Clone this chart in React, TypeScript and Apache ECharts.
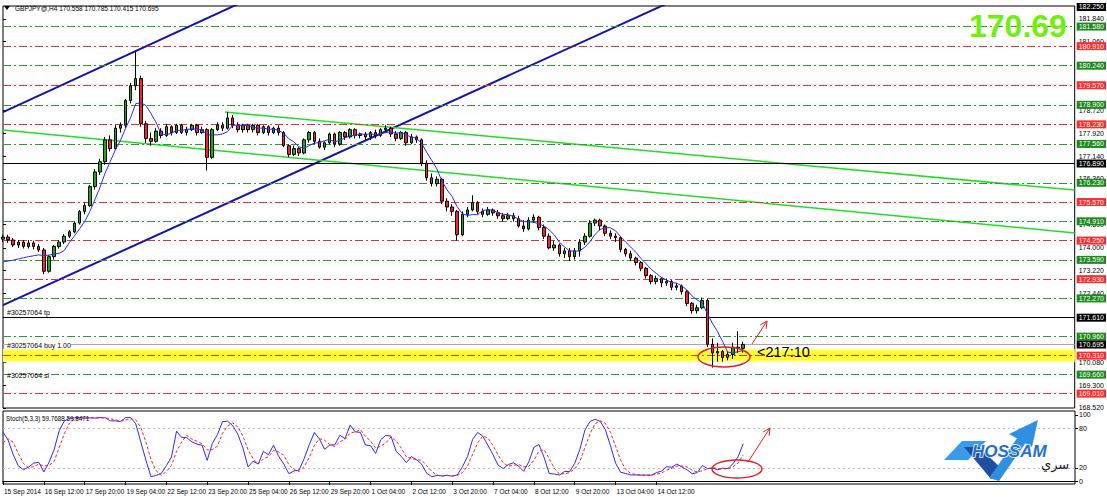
import React, { useEffect, useRef } from "react";
import * as echarts from "echarts";

// ---------- data ----------
const tickLabels = ["15 Sep 2014","16 Sep 12:00","17 Sep 20:00","19 Sep 04:00","22 Sep 12:00","23 Sep 20:00","25 Sep 04:00","26 Sep 12:00","29 Sep 20:00","1 Oct 04:00","2 Oct 12:00","3 Oct 20:00","7 Oct 04:00","8 Oct 12:00","9 Oct 20:00","13 Oct 04:00","14 Oct 12:00"];

const opens = [174.30,174.37,174.27,174.10,174.20,174.05,174.17,174.05,173.93,173.20,
173.70,174.05,174.20,174.40,174.55,174.85,175.25,175.45,176.10,176.60,
176.95,177.70,177.40,178.10,178.20,179.05,179.55,179.80,178.25,177.75,
177.65,178.00,177.85,178.15,177.95,178.20,177.95,178.05,178.20,177.95,
178.05,177.10,178.05,178.20,178.10,178.45,178.20,178.05,178.20,178.05,
178.20,177.95,178.15,177.95,178.10,177.95,177.50,177.20,177.40,177.25,
177.70,177.95,177.65,177.45,177.60,177.90,177.55,177.95,177.80,178.05,
177.85,177.90,177.80,177.95,177.85,178.05,178.10,177.90,177.75,177.95,
177.60,177.80,177.70,176.90,176.40,176.20,176.35,175.60,175.40,175.25,
174.45,175.15,175.30,175.55,175.25,175.15,175.30,175.20,175.10,175.00,
175.10,175.00,174.75,174.65,174.95,175.05,174.70,174.40,174.00,174.10,
173.80,173.90,173.70,173.90,174.20,174.40,174.85,174.95,174.75,174.50,
174.40,174.35,173.95,173.80,173.65,173.50,173.30,173.05,172.85,172.95,
172.80,172.85,172.65,172.70,172.50,172.10,171.85,171.95,172.20,170.70,
170.40,170.45,170.25,170.35,170.60,170.558];

const closes = [174.37,174.27,174.10,174.20,174.05,174.17,174.05,173.93,173.20,173.70,
174.05,174.20,174.40,174.55,174.85,175.25,175.45,176.10,176.60,176.95,
177.70,177.40,178.10,178.20,179.05,179.55,179.80,178.25,177.75,177.65,
178.00,177.85,178.15,177.95,178.20,177.95,178.05,178.20,177.95,178.05,
177.10,178.05,178.20,178.10,178.45,178.20,178.05,178.20,178.05,178.20,
177.95,178.15,177.95,178.10,177.95,177.50,177.20,177.40,177.25,177.70,
177.95,177.65,177.45,177.60,177.90,177.55,177.95,177.80,178.05,177.85,
177.90,177.80,177.95,177.85,178.05,178.10,177.90,177.75,177.95,177.60,
177.80,177.70,176.90,176.40,176.20,176.35,175.60,175.40,175.25,174.45,
175.15,175.30,175.55,175.25,175.15,175.30,175.20,175.10,175.00,175.10,
175.00,174.75,174.65,174.95,175.05,174.70,174.40,174.00,174.10,173.80,
173.90,173.70,173.90,174.20,174.40,174.85,174.95,174.75,174.50,174.40,
174.35,173.95,173.80,173.65,173.50,173.30,173.05,172.85,172.95,172.80,
172.85,172.65,172.70,172.50,172.10,171.85,171.95,172.20,170.70,170.40,
170.45,170.25,170.35,170.60,170.558,170.695];

const lows = [174.20,174.17,174.03,174.00,173.98,173.98,173.95,173.86,173.10,173.15,
173.60,173.98,174.13,174.34,174.50,174.80,175.15,175.40,176.00,176.50,
176.85,177.30,177.35,177.95,178.10,178.95,179.40,178.15,177.60,177.50,
177.60,177.75,177.80,177.85,177.90,177.90,177.85,178.00,177.85,177.90,
176.65,177.05,178.00,178.00,178.05,178.10,177.95,177.95,177.95,177.95,
177.85,177.90,177.85,177.90,177.85,177.45,177.10,177.15,177.15,177.20,
177.60,177.55,177.40,177.35,177.55,177.45,177.50,177.70,177.75,177.75,
177.75,177.70,177.70,177.75,177.80,177.95,177.80,177.65,177.70,177.50,
177.55,177.60,176.80,176.30,176.10,176.10,175.50,175.25,175.10,174.25,
174.40,175.05,175.25,175.15,175.05,175.10,175.10,175.00,174.90,174.95,
174.90,174.70,174.55,174.60,174.85,174.60,174.30,173.95,173.90,173.70,
173.65,173.55,173.60,173.70,174.10,174.35,174.75,174.60,174.40,174.30,
174.20,173.85,173.70,173.55,173.40,173.20,172.95,172.75,172.75,172.65,
172.70,172.55,172.55,172.40,172.00,171.75,171.75,171.90,170.60,169.90,
170.10,170.10,170.15,170.20,170.40,170.415];

const highs = [174.45,174.45,174.34,174.27,174.27,174.27,174.25,174.13,174.00,173.76,
174.10,174.27,174.47,174.61,174.90,175.30,175.55,176.15,176.70,177.05,
177.80,177.85,178.20,178.30,179.10,179.65,180.71,179.90,178.35,177.95,
178.10,178.10,178.25,178.20,178.25,178.25,178.15,178.25,178.25,178.15,
178.10,178.10,178.30,178.30,178.65,178.55,178.30,178.25,178.25,178.25,
178.25,178.20,178.20,178.15,178.20,178.00,177.55,177.50,177.45,177.75,
178.00,178.00,177.75,177.65,177.95,177.95,178.00,178.00,178.10,178.10,
177.95,177.97,178.00,178.05,178.10,178.20,178.15,178.00,178.00,178.00,
177.90,177.85,177.75,177.00,176.55,176.45,176.40,175.70,175.50,175.30,
175.25,175.40,175.80,175.60,175.35,175.40,175.35,175.30,175.20,175.20,
175.20,175.10,174.95,175.05,175.15,175.10,174.80,174.50,174.25,174.15,
174.00,174.00,174.00,174.30,174.50,174.95,175.00,175.00,174.80,174.60,
174.50,174.40,174.00,173.90,173.70,173.55,173.35,173.10,173.05,173.00,
172.95,172.90,172.80,172.75,172.55,172.15,172.05,172.30,172.25,170.90,
170.75,170.50,170.45,170.75,171.15,170.785];

// indicator values of the first bars (history before the window)
const maLead = [173.52,173.55,173.58,173.62,173.66,173.70,173.73,173.76,173.74,173.75,173.79];
const stochKLead = [74, 62, 40, 23, 17, 21];
const stochDLead = [58, 64];

const plainPriceTicks = [181.84,181.06,178.72,177.92,177.14,176.36,174.8,174.0,173.22,172.44,170.08,169.3,168.52];
const greenLevels = [181.58,180.24,178.9,177.56,176.23,174.91,173.59,172.27,170.96,169.66];
const redLevels = [180.91,179.57,178.23,175.57,174.25,172.93,170.31,169.01];
const blackLevels = [176.89,171.61];
const topPrice = 182.25;
const bidPrice = 170.695;
const stochTicks = [0,20,80,100];
const stochLevels = [20,80];

// drawn objects (endpoints as [bar index, price])
const blueUpper = [[0,178.65],[50,182.67]];
const blueLower = [[0,172.04],[131,182.44]];
const greenUpper = [[43.5,178.65],[210,175.98]];
const greenLower = [[0,178.04],[210,174.51]];
const highlightBand = [170.08,170.55];

const N_SLOTS = 211;
const Y_MIN = 168.517;
const Y_MAX = 182.284;
const FONT = "'Liberation Sans', Arial, sans-serif";

function maLine(p: number) {
  return closes.map((_, i) => {
    if (i < maLead.length) return maLead[i];
    let s = 0;
    for (let j = i - p + 1; j <= i; j++) s += closes[j];
    return +(s / p).toFixed(4);
  });
}

function stochastic(k: number, slow: number, d: number) {
  const n = closes.length;
  const K: number[] = new Array(n).fill(0);
  const D: number[] = new Array(n).fill(0);
  for (let i = 0; i < n; i++) {
    if (i < stochKLead.length) { K[i] = stochKLead[i]; continue; }
    let num = 0, den = 0;
    for (let j = i - slow + 1; j <= i; j++) {
      const a = Math.max(0, j - k + 1);
      let ll = Infinity, hh = -Infinity;
      for (let m = a; m <= j; m++) { ll = Math.min(ll, lows[m]); hh = Math.max(hh, highs[m]); }
      num += closes[j] - ll; den += hh - ll;
    }
    K[i] = den > 0 ? (100 * num) / den : 100;
  }
  for (let i = 0; i < n; i++) {
    if (i < stochDLead.length) { D[i] = stochDLead[i]; continue; }
    let s = 0;
    for (let j = i - d + 1; j <= i; j++) s += K[j];
    D[i] = s / d;
  }
  return { K, D };
}

function levelLine(v: number, color: string, bg: string, type: any) {
  return {
    yAxis: v,
    lineStyle: { color, type, width: 1 },
    label: {
      show: true, position: "end", formatter: v.toFixed(3), distance: 2,
      backgroundColor: bg, color: "#fff", padding: [1, 2, 0, 2],
      fontSize: 7, fontFamily: FONT,
    },
  };
}

function arrowHead(tx: number, ty: number, fx: number, fy: number, len = 7, half = 3.5) {
  const dx = tx - fx, dy = ty - fy;
  const L = Math.hypot(dx, dy);
  const ux = dx / L, uy = dy / L;
  const bx = tx - len * ux, by = ty - len * uy;
  const px = -uy, py = ux;
  return [[bx + half * px, by + half * py], [tx, ty], [bx - half * px, by - half * py]];
}

function buildOption() {
  const categories = Array.from({ length: N_SLOTS }, (_, i) => String(i));
  const candleData = opens.map((o, i) => [o, closes[i], lows[i], highs[i]]);
  const ma = maLine(5);
  const st = stochastic(5, 3, 3);
  const labelInterval = (index: number) => index % 8 === 0 && index / 8 < tickLabels.length;
  const dashDot = [8, 3, 2, 3];

  const levels: any[] = [];
  greenLevels.forEach((v) => levels.push(levelLine(v, "#2e9a2e", "#1c8a1c", dashDot)));
  redLevels.forEach((v) => levels.push(levelLine(v, "#e83030", "#ff2a2a", dashDot)));
  blackLevels.forEach((v) => levels.push(levelLine(v, "#000", "#000", "solid")));
  levels.push(levelLine(topPrice, "rgba(0,0,0,0)", "#000", "solid"));
  levels.push(levelLine(bidPrice, "#a8a8a8", "#000", "solid"));

  const chLine = (data: number[][], color: string, width: number) => ({
    type: "line", xAxisIndex: 1, yAxisIndex: 0, data, symbol: "none", silent: true,
    lineStyle: { color, width }, clip: true, z: 4,
  });

  const txt = (x: number, y: number, text: string, size: number, extra: any = {}) => ({
    type: "text", x, y, silent: true, z: 50,
    style: { text, fill: "#000", font: `${size}px ${FONT}`, textVerticalAlign: "middle", ...extra },
  });

  const mainArrowFrom = [752, 344], mainArrowTo = [767, 321];
  const stArrowFrom = [748, 462], stArrowTo = [770, 428];

  return {
    animation: false,
    backgroundColor: "#fff",
    textStyle: { fontFamily: FONT },
    grid: [
      { left: 3, right: 32, top: 6, height: 402, show: true, borderColor: "#000", borderWidth: 1 },
      { left: 3, right: 32, top: 411, height: 73, show: true, borderColor: "#000", borderWidth: 1 },
    ],
    xAxis: [
      { type: "category", gridIndex: 0, data: categories, boundaryGap: false, axisLine: { show: false }, axisTick: { show: false }, axisLabel: { show: false }, splitLine: { show: false } },
      { type: "value", gridIndex: 0, min: 0, max: N_SLOTS - 1, show: false, position: "top" },
      {
        type: "category", gridIndex: 1, data: categories, boundaryGap: false,
        axisLine: { lineStyle: { color: "#000" } },
        axisTick: { show: true, interval: labelInterval, length: 4, lineStyle: { color: "#000" } },
        axisLabel: { interval: labelInterval, showMinLabel: true, hideOverlap: false, formatter: (_v: string, i: number) => tickLabels[i / 8] ?? "", align: "left", fontSize: 6.5, color: "#000", margin: 4, padding: [0, 0, 0, 1], fontFamily: FONT },
        splitLine: { show: false },
      },
    ],
    yAxis: [
      {
        type: "value", gridIndex: 0, min: Y_MIN, max: Y_MAX, position: "right",
        splitLine: { show: false }, axisLine: { show: false },
        axisTick: { show: true, customValues: plainPriceTicks, length: 3, lineStyle: { color: "#000" } },
        axisLabel: { customValues: plainPriceTicks, formatter: (v: number) => v.toFixed(3), fontSize: 7, color: "#000", margin: 4, fontFamily: FONT },
      },
      {
        type: "value", gridIndex: 1, min: -4.5, max: 106, position: "right",
        splitLine: { show: false }, axisLine: { show: false },
        axisTick: { show: true, customValues: stochTicks, length: 3, lineStyle: { color: "#000" } },
        axisLabel: { customValues: stochTicks, fontSize: 7, color: "#000", margin: 4, fontFamily: FONT },
      },
    ],
    series: [
      {
        type: "line", xAxisIndex: 0, yAxisIndex: 0, data: [], z: 1, silent: true,
        markArea: {
          silent: true,
          data: [
            [{ yAxis: highlightBand[0], itemStyle: { color: "#ffff99" } }, { yAxis: highlightBand[1] }],
            [{ yAxis: highlightBand[0] + 0.06, itemStyle: { color: "#ffff2e" } }, { yAxis: highlightBand[1] - 0.06 }],
          ],
        },
      },
      {
        type: "line", xAxisIndex: 0, yAxisIndex: 0, data: [], z: 2, silent: true,
        markLine: { silent: true, symbol: ["none", "none"], data: levels },
      },
      chLine(blueUpper, "#1414a8", 2),
      chLine(blueLower, "#1414a8", 2),
      chLine(greenUpper, "#22dd22", 1.5),
      chLine(greenLower, "#22dd22", 1.5),
      {
        type: "candlestick", xAxisIndex: 0, yAxisIndex: 0, data: candleData, barWidth: 3, z: 5, silent: true,
        itemStyle: { color: "#10b010", color0: "#ff2020", borderColor: "#000", borderColor0: "#000", borderWidth: 1 },
      },
      {
        type: "line", xAxisIndex: 0, yAxisIndex: 0, data: ma, symbol: "none", silent: true, z: 6,
        lineStyle: { color: "#2a2aff", width: 1 },
      },
      {
        type: "line", xAxisIndex: 2, yAxisIndex: 1, data: st.K, symbol: "none", silent: true, z: 5,
        lineStyle: { color: "#2a2aff", width: 1 },
        markLine: {
          silent: true, symbol: ["none", "none"], label: { show: false },
          data: stochLevels.map((v) => ({ yAxis: v })),
          lineStyle: { color: "#bbbbbb", type: [2, 3], width: 1 },
        },
      },
      {
        type: "line", xAxisIndex: 2, yAxisIndex: 1, data: st.D, symbol: "none", silent: true, z: 5,
        lineStyle: { color: "#ff2020", width: 1, type: [3, 2] },
      },
    ],
    graphic: [
      { type: "polygon", silent: true, z: 50, shape: { points: [[4, 6], [10, 6], [7, 10]] }, style: { fill: "#000" } },
      txt(15, 8, "GBPJPY@,H4 170.558 170.785 170.415 170.695", 6.5),
      txt(7, 312, "#30257064 tp", 7),
      txt(7, 345, "#30257064 buy 1.00", 7, { backgroundColor: "#fff" }),
      txt(7, 375, "#30257064 sl", 7),
      txt(6, 418, "Stoch(5,3,3) 59.7688 59.8471", 6.3),
      { type: "text", x: 757, y: 352, silent: true, z: 50, style: { text: "<217:10", fill: "#000", font: `14.5px ${FONT}`, textVerticalAlign: "middle" } },
      { type: "text", x: 969, y: 26, silent: true, z: 50, style: { text: "170.69", fill: "#72ee10", font: `bold 32px ${FONT}`, textVerticalAlign: "middle" } },
      { type: "ellipse", silent: true, z: 50, shape: { cx: 724, cy: 357, rx: 26, ry: 10 }, style: { fill: "none", stroke: "#e02020", lineWidth: 1.5 } },
      { type: "line", silent: true, z: 50, shape: { x1: mainArrowFrom[0], y1: mainArrowFrom[1], x2: mainArrowTo[0], y2: mainArrowTo[1] }, style: { stroke: "#e02020", lineWidth: 1 } },
      { type: "polyline", silent: true, z: 50, shape: { points: arrowHead(mainArrowTo[0], mainArrowTo[1], mainArrowFrom[0], mainArrowFrom[1]) }, style: { stroke: "#e02020", lineWidth: 1, fill: "none" } },
      { type: "ellipse", silent: true, z: 50, shape: { cx: 737, cy: 469, rx: 25, ry: 9 }, style: { fill: "none", stroke: "#e02020", lineWidth: 1.5 } },
      { type: "line", silent: true, z: 50, shape: { x1: stArrowFrom[0], y1: stArrowFrom[1], x2: stArrowTo[0], y2: stArrowTo[1] }, style: { stroke: "#e02020", lineWidth: 1 } },
      { type: "polyline", silent: true, z: 50, shape: { points: arrowHead(stArrowTo[0], stArrowTo[1], stArrowFrom[0], stArrowFrom[1]) }, style: { stroke: "#e02020", lineWidth: 1, fill: "none" } },
      // logo
      { type: "polygon", silent: true, z: 40, shape: { points: [[944, 460], [962, 441], [986, 441], [968, 460]] }, style: { fill: "#3a9be8" } },
      { type: "polygon", silent: true, z: 40, shape: { points: [[964, 447], [979, 447], [1004, 471], [991, 479]] }, style: { fill: "#1f4f9f" } },
      { type: "polygon", silent: true, z: 41, shape: { points: [[989, 478], [1018, 437], [1027, 441], [999, 481]] }, style: { fill: "#2f8fe0" } },
      { type: "polygon", silent: true, z: 41, shape: { points: [[1009, 434], [1038, 420], [1032, 447]] }, style: { fill: "#2f8fe0" } },
      { type: "text", x: 972, y: 451, silent: true, z: 42, style: { text: "HOSSAM", fill: "#1f6fd6", stroke: "#ffffff", lineWidth: 1.5, font: `italic bold 17px ${FONT}`, textVerticalAlign: "middle" } },
      { type: "text", x: 1041, y: 464, silent: true, z: 42, style: { text: "سري", fill: "#222", font: `13px "Noto Sans", "DejaVu Sans", sans-serif`, textVerticalAlign: "middle" } },
    ],
  };
}

export default function App() {
  const ref = useRef<HTMLDivElement>(null);
  useEffect(() => {
    if (!ref.current) return;
    const chart = echarts.init(ref.current, null, { renderer: "svg" });
    chart.setOption(buildOption() as any);
    return () => chart.dispose();
  }, []);
  return (
    <div
      ref={ref}
      style={{ position: "fixed", left: 0, top: 0, width: 1107, height: 500, background: "#fff" }}
    />
  );
}
